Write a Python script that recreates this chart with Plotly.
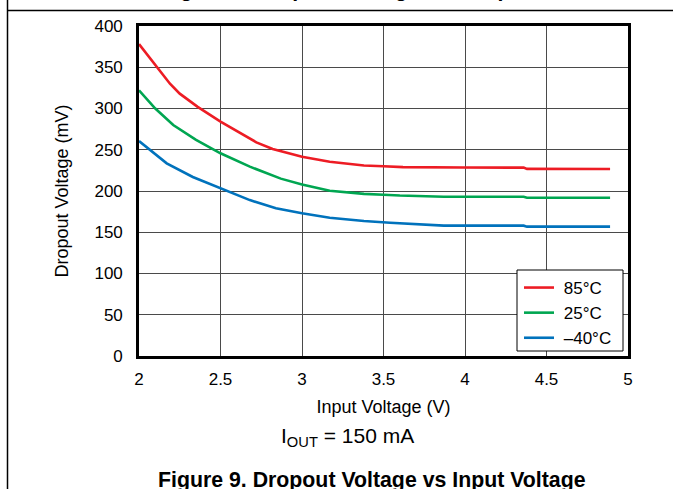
import plotly.graph_objects as go

# Data
v_in_85 = [2.0, 2.1, 2.19, 2.25, 2.36, 2.5, 2.62, 2.72, 2.82, 3.0, 3.17, 3.38, 3.5, 3.62, 3.99, 4.36, 4.38, 4.89]
vdo_85 = [378, 353, 330, 318, 302, 284, 270, 259, 251, 241.5, 235.5, 231, 230, 229, 228.5, 228.3, 226.8, 226.7]

v_in_25 = [2.0, 2.1, 2.21, 2.35, 2.5, 2.68, 2.87, 3.0, 3.17, 3.38, 3.5, 3.6, 3.87, 4.36, 4.38, 4.89]
vdo_25 = [322, 300, 280, 262, 245.7, 229.5, 215, 208, 200.4, 196.5, 195.5, 194.5, 193, 193, 191.9, 191.9]

v_in_m40 = [2.0, 2.17, 2.33, 2.5, 2.68, 2.84, 3.0, 3.17, 3.38, 3.54, 3.87, 4.36, 4.38, 4.89]
vdo_m40 = [260.6, 233.5, 217, 203, 189, 179, 173, 167.6, 163.6, 161.6, 158, 158, 156.8, 156.8]

series_names = ["85°C", "25°C", "–40°C"]
series_colors = ["#ED1C24", "#00A651", "#0072BC"]

x_ticks = [2, 2.5, 3, 3.5, 4, 4.5, 5]
x_tick_text = ["2", "2.5", "3", "3.5", "4", "4.5", "5"]
y_ticks = [0, 50, 100, 150, 200, 250, 300, 350, 400]

FONT = "Arial, Liberation Sans, sans-serif"

# plot area in pixels
L, R, T, B = 139, 628, 26, 356
W, H = 673, 489

def px(p):
    return (p - L) / (R - L)

def py(q):
    return (B - q) / (B - T)

fig = go.Figure()
for xs, ys, name, col in zip([v_in_85, v_in_25, v_in_m40], [vdo_85, vdo_25, vdo_m40], series_names, series_colors):
    fig.add_trace(go.Scatter(x=xs, y=ys, mode="lines", name=" " + name,
                             line=dict(color=col, width=2.6)))

fig.update_layout(
    width=W, height=H,
    margin=dict(l=L, r=W - R, t=T, b=H - B, pad=0),
    paper_bgcolor="white", plot_bgcolor="white",
    font=dict(family=FONT, color="black", size=17),
    showlegend=True,
    legend=dict(x=px(519), y=py(270), xanchor="left", yanchor="top",
                bgcolor="rgba(0,0,0,0)", borderwidth=0,
                font=dict(family=FONT, size=17, color="black"),
                itemwidth=30, tracegroupgap=0),
    xaxis=dict(range=[2, 5], tickvals=x_ticks, ticktext=x_tick_text,
               showgrid=True, gridcolor="#4a4a4a", gridwidth=1,
               showline=True, linecolor="black", linewidth=2.6, mirror=True,
               ticks="outside", ticklen=6, tickcolor="rgba(0,0,0,0)",
               tickfont=dict(size=17), zeroline=False,
               title=dict(text="Input Voltage (V)", font=dict(size=18), standoff=13)),
    yaxis=dict(range=[0, 400], tickvals=y_ticks,
               showgrid=True, gridcolor="#4a4a4a", gridwidth=1,
               showline=True, linecolor="black", linewidth=2.6, mirror=True,
               ticks="outside", ticklen=10, tickcolor="rgba(0,0,0,0)",
               tickfont=dict(size=17), zeroline=False,
               title=dict(text="Dropout Voltage (mV)", font=dict(size=18), standoff=22)),
)

# legend frame
fig.add_shape(type="rect", xref="paper", yref="paper", layer="above",
              x0=px(517), x1=px(623), y0=py(351), y1=py(270),
              fillcolor="white", line=dict(color="black", width=1))

# page border lines (table cell)
fig.add_shape(type="line", xref="paper", yref="paper",
              x0=px(7.5), x1=px(7.5), y0=py(0), y1=py(489),
              line=dict(color="black", width=1.5))
fig.add_shape(type="line", xref="paper", yref="paper",
              x0=px(7.5), x1=px(673), y0=py(10.5), y1=py(10.5),
              line=dict(color="black", width=1.5))

# clipped caption of the figure above
fig.add_annotation(text="<b>Figure 8. Dropout Voltage vs Temperature</b>", xref="paper", yref="paper",
                   x=px(372), y=py(3.1), xanchor="center", yanchor="bottom", showarrow=False,
                   font=dict(family=FONT, size=21.3, color="black"))

fig.add_annotation(text="I<sub>OUT</sub> = 150 mA", xref="paper", yref="paper",
                   x=px(347), y=py(437), xanchor="center", yanchor="middle", showarrow=False,
                   font=dict(family=FONT, size=21, color="black"))

fig.add_annotation(text="<b>Figure 9. Dropout Voltage vs Input Voltage</b>", xref="paper", yref="paper",
                   x=px(372), y=py(480), xanchor="center", yanchor="middle", showarrow=False,
                   font=dict(family=FONT, size=21.3, color="black"))

fig.write_html("out.html")
